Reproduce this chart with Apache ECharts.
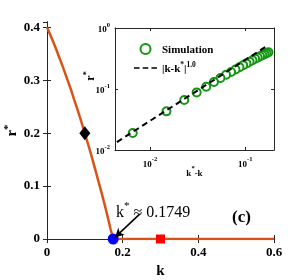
<!DOCTYPE html>
<html><head><meta charset="utf-8">
<script src="https://cdn.jsdelivr.net/npm/echarts@6/dist/echarts.min.js"></script>
<style>html,body{margin:0;padding:0;background:#fff}#c{width:304px;height:280px}</style>
</head><body><div id="c"></div>
<script>
// ---- data ----
const kMain = [0, 0.008, 0.016, 0.024, 0.032, 0.04, 0.048, 0.056, 0.064, 0.072, 0.08, 0.088, 0.096, 0.104, 0.112, 0.12, 0.128, 0.136, 0.144, 0.152, 0.16, 0.168, 0.1749, 0.6];
const rMain = [0.400, 0.387, 0.373, 0.359, 0.344, 0.329, 0.313, 0.297, 0.281, 0.263, 0.246, 0.228, 0.209, 0.190, 0.171, 0.151, 0.130, 0.109, 0.088, 0.066, 0.043, 0.019, 0, 0];
const diamondPoint = [0.1, 0.2];
const criticalPoint = [0.1749, 0];
const squarePoint = [0.3, 0];
const arrowFrom = [0.245, 0.047];
const arrowTo = [0.1795, 0.003];
const insetX = [0.1749, 0.1669, 0.1589, 0.1509, 0.1429, 0.1349, 0.1269, 0.1189, 0.1109, 0.1029, 0.0949, 0.0869, 0.0789, 0.0709, 0.0629, 0.0549, 0.0469, 0.0389, 0.0309, 0.0229, 0.0149, 0.0066];
const insetR = [0.400, 0.387, 0.373, 0.359, 0.344, 0.329, 0.313, 0.297, 0.281, 0.263, 0.246, 0.228, 0.209, 0.190, 0.171, 0.151, 0.130, 0.109, 0.088, 0.066, 0.043, 0.019];
const fitX = [0.0045, 0.165];
const fitR = [0.0135, 0.495];
const mainXTicks = ['0', '0.2', '0.4', '0.6'];
const mainYTicks = ['0', '0.1', '0.2', '0.3', '0.4'];
const insetXTicks = [[0.01, '-2'], [0.1, '-1']];
const insetYTicks = [[0.01, '-2'], [0.1, '-1'], [1, '0']];
const seriesNames = ['Simulation', '|k-k*|^1.0'];

const SERIF = "'Liberation Serif','Times New Roman',serif";
const AX = '#262626';
const chart = echarts.init(document.getElementById('c'), null, {renderer: 'canvas'});

function pow10Label(list) {
  return function (v) {
    for (const [t, e] of list) if (Math.abs(v - t) / t < 1e-6) return '{b|10}{s|' + e + '}';
    return '';
  };
}
function mainLabel(list) {
  return function (v) {
    const s = String(+v.toFixed(3));
    return list.indexOf(s) >= 0 ? s : '';
  };
}
const supRich = {
  b: {fontFamily: SERIF, fontWeight: 'bold', fontSize: 9, color: '#000', verticalAlign: 'bottom', lineHeight: 13},
  s: {fontFamily: SERIF, fontWeight: 'bold', fontSize: 6.5, color: '#000', verticalAlign: 'top', lineHeight: 13}
};
const mainLabelStyle = {fontFamily: SERIF, fontWeight: 'bold', fontSize: 13, color: '#000'};
const frameAxis = {
  axisLine: {show: true, lineStyle: {color: AX, width: 1}},
  axisTick: {show: true, inside: true, length: 4, lineStyle: {color: AX}},
  axisLabel: {show: false},
  splitLine: {show: false}
};
// dashed legend glyph (three dashes)
const dashIcon = 'path://M0,0 L7,0 L7,2 L0,2 Z M11,0 L18,0 L18,2 L11,2 Z M22,0 L29,0 L29,2 L22,2 Z';

const option = {
  animation: false,
  backgroundColor: '#fff',
  grid: [
    {left: 47, right: 30, top: 22, bottom: 41, containLabel: false, outerBoundsMode: 'none'},
    {left: 115, right: 30, top: 28, bottom: 130, show: true, backgroundColor: '#fff', borderWidth: 0, z: 5,
      containLabel: false, outerBoundsMode: 'none'}
  ],
  xAxis: [
    {gridIndex: 0, type: 'value', min: 0, max: 0.6, interval: 0.2, position: 'bottom',
      name: 'k', nameLocation: 'middle', nameGap: 25,
      nameTextStyle: {fontFamily: SERIF, fontWeight: 'bold', fontSize: 15, color: '#000'},
      axisLine: {lineStyle: {color: AX}}, axisTick: {inside: true, length: 4, lineStyle: {color: AX}},
      axisLabel: Object.assign({margin: 7, formatter: mainLabel(mainXTicks)}, mainLabelStyle),
      splitLine: {show: false}},
    Object.assign({gridIndex: 0, type: 'value', min: 0, max: 0.6, interval: 0.2, position: 'top'}, frameAxis),
    {gridIndex: 1, type: 'log', logBase: 10, min: 0.0043, max: 0.2, position: 'bottom', z: 6,
      name: '{b|k}{s|*}{b|-k}', nameLocation: 'middle', nameGap: 15, nameMoveOverlap: false,
      nameTextStyle: {rich: supRich},
      axisLine: {lineStyle: {color: AX}}, axisTick: {inside: true, length: 3, lineStyle: {color: AX}},
      axisLabel: {margin: 6, formatter: pow10Label(insetXTicks), rich: supRich, showMinLabel: false, showMaxLabel: false},
      splitLine: {show: false}},
    Object.assign({gridIndex: 1, type: 'log', logBase: 10, min: 0.0043, max: 0.2, position: 'top', z: 6}, frameAxis,
      {axisTick: {show: true, inside: true, length: 3, lineStyle: {color: AX}}})
  ],
  yAxis: [
    {gridIndex: 0, type: 'value', min: 0, max: 0.41, interval: 0.1, position: 'left',
      name: '{b|r}{s|*}', nameLocation: 'middle', nameGap: 27, nameMoveOverlap: false,
      nameTextStyle: {padding: [0, 0, 0, 0], rich: {
        b: {fontFamily: SERIF, fontWeight: 'bold', fontSize: 15, color: '#000', verticalAlign: 'bottom', lineHeight: 17},
        s: {fontFamily: SERIF, fontWeight: 'bold', fontSize: 11, color: '#000', verticalAlign: 'top', lineHeight: 17}}},
      axisLine: {show: true, lineStyle: {color: AX}}, axisTick: {show: true, inside: true, length: 4, lineStyle: {color: AX}},
      axisLabel: Object.assign({margin: 7, formatter: mainLabel(mainYTicks), showMaxLabel: false}, mainLabelStyle),
      splitLine: {show: false}},
    Object.assign({gridIndex: 0, type: 'value', min: 0, max: 0.41, interval: 0.1, position: 'right'}, frameAxis),
    {gridIndex: 1, type: 'log', logBase: 10, min: 0.01, max: 1, position: 'left', z: 6,
      name: '{b|r}{s|*}', nameLocation: 'middle', nameGap: 18, nameMoveOverlap: false,
      nameTextStyle: {padding: [0, 0, 0, 26], rich: {
        b: {fontFamily: SERIF, fontWeight: 'bold', fontSize: 12, color: '#000', verticalAlign: 'bottom', lineHeight: 14},
        s: {fontFamily: SERIF, fontWeight: 'bold', fontSize: 8, color: '#000', verticalAlign: 'top', lineHeight: 14}}},
      axisLine: {show: true, lineStyle: {color: AX}}, axisTick: {show: true, inside: true, length: 3, lineStyle: {color: AX}},
      axisLabel: {margin: 5, formatter: pow10Label(insetYTicks), rich: supRich},
      splitLine: {show: false}},
    Object.assign({gridIndex: 1, type: 'log', logBase: 10, min: 0.01, max: 1, position: 'right', z: 6}, frameAxis,
      {axisTick: {show: true, inside: true, length: 3, lineStyle: {color: AX}}})
  ],
  legend: {
    show: true, orient: 'vertical', left: 129, top: 38, itemWidth: 23, itemHeight: 10, itemGap: 6, z: 10,
    data: [
      {name: seriesNames[0], icon: 'emptyCircle'},
      {name: seriesNames[1], icon: dashIcon, itemStyle: {color: '#000', borderWidth: 0}}
    ],
    formatter: function (name) {
      return name === seriesNames[0] ? '{b|Simulation}' : '{b||k-k}{s|*}{b||}{s|1.0}';
    },
    textStyle: {rich: {
      b: {fontFamily: SERIF, fontWeight: 'bold', fontSize: 11, color: '#000', verticalAlign: 'bottom', lineHeight: 13},
      s: {fontFamily: SERIF, fontWeight: 'bold', fontSize: 7.5, color: '#000', verticalAlign: 'top', lineHeight: 13}}}
  },
  series: [
    {type: 'line', xAxisIndex: 0, yAxisIndex: 0, data: kMain.map((k, i) => [k, rMain[i]]),
      showSymbol: false, symbol: 'none', lineStyle: {color: '#D95319', width: 2.5}, z: 3},
    {type: 'scatter', xAxisIndex: 0, yAxisIndex: 0, data: [diamondPoint], symbol: 'diamond', symbolSize: [11, 14],
      itemStyle: {color: '#000', opacity: 1}, z: 4},
    {type: 'scatter', xAxisIndex: 0, yAxisIndex: 0, data: [squarePoint], symbol: 'rect', symbolSize: 9,
      itemStyle: {color: '#ff0000', opacity: 1}, z: 4},
    {type: 'scatter', xAxisIndex: 0, yAxisIndex: 0, data: [criticalPoint], symbol: 'circle', symbolSize: 11,
      itemStyle: {color: '#0000ff', opacity: 1}, z: 4,
      markLine: {silent: true, symbol: ['none', 'arrow'], symbolSize: [7, 9], label: {show: false},
        lineStyle: {color: '#000', width: 1.6, type: 'solid'},
        data: [[{coord: arrowFrom}, {coord: arrowTo}]]}},
    {name: seriesNames[0], type: 'scatter', xAxisIndex: 2, yAxisIndex: 2,
      data: insetX.map((x, i) => [x, insetR[i]]), symbol: 'emptyCircle', symbolSize: 8,
      itemStyle: {color: '#129612', borderColor: '#129612', borderWidth: 1.3, opacity: 1}, z: 7},
    {name: seriesNames[1], type: 'line', xAxisIndex: 2, yAxisIndex: 2,
      data: fitX.map((x, i) => [x, fitR[i]]), symbol: 'none', showSymbol: false,
      lineStyle: {color: '#000', width: 2, type: [6, 4]}, itemStyle: {color: '#000'}, z: 8}
  ],
  graphic: [
    {type: 'text', left: 116, top: 201, z: 20, style: {
      text: '{a|k}{s|*}{a| \u2248 0.1749}',
      rich: {
        a: {fontFamily: SERIF, fontSize: 16, fill: '#000', verticalAlign: 'bottom', lineHeight: 20},
        s: {fontFamily: SERIF, fontSize: 11, fill: '#000', verticalAlign: 'top', lineHeight: 20}}}},
    {type: 'text', left: 232, top: 209, z: 20, style: {
      text: '(c)', fontFamily: SERIF, fontWeight: 'bold', fontSize: 17, fill: '#000'}}
  ]
};
chart.setOption(option);
</script>
</body></html>
